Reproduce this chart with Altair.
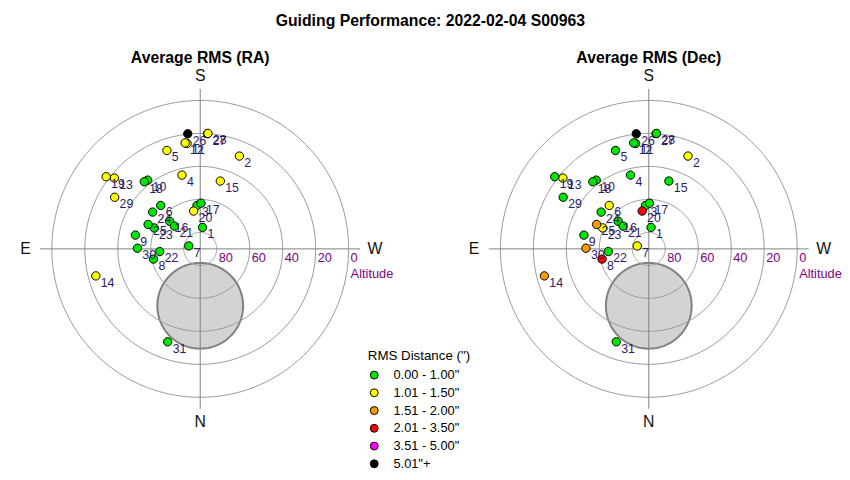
import math
import altair as alt
import numpy as np
import pandas as pd

FONT = "Arial, Liberation Sans, sans-serif"

# ---- data ----
point_ids = list(range(1, 32))
altitude = [76.9, 28.9, 63.6, 43.9, 27.0, 54.4, 82.8, 61.0, 49.8, 37.5, 25.6, 25.1, 22.5, 24.6, 47.1,
            65.0, 62.3, 37.0, 18.1, 66.7, 69.2, 65.4, 59.3, 53.5, 55.1, 19.8, 20.0, 19.8, 29.4, 51.9, 30.3]
azimuth = [186.1, 202.9, 175.7, 166.1, 161.3, 137.7, 104.4, 77.7, 102.0, 142.6, 172.9, 171.9, 129.5, 75.5, 196.5,
           132.1, 180.9, 140.2, 127.5, 170.1, 131.5, 86.2, 114.5, 127.7, 115.1, 173.8, 183.6, 183.8, 121.1, 90.6, 19.3]
# index into rms_bins
ra_class = [0, 1, 0, 1, 1, 0, 0, 0, 0, 0, 1, 1, 1, 1, 1, 0, 0, 0, 1, 1, 0, 0, 0, 0, 0, 5, 1, 1, 1, 0, 0]
dec_class = [0, 1, 0, 0, 0, 1, 1, 3, 0, 0, 0, 0, 1, 2, 0, 0, 0, 0, 0, 3, 0, 0, 1, 0, 2, 5, 0, 0, 0, 2, 0]

rms_bins = ['0.00 - 1.00"', '1.01 - 1.50"', '1.51 - 2.00"', '2.01 - 3.50"', '3.51 - 5.00"', '5.01"+']
rms_colors = ["#00e600", "#ffff00", "#f59b00", "#ff0000", "#ff00ff", "#000000"]

ring_altitudes = [80, 60, 40, 20, 0]
compass = ["S", "N", "E", "W"]
compass_az = [180, 0, 90, 270]
pole_altitude = 55.5
pole_radius = 26.0

main_title = "Guiding Performance: 2022-02-04 S00963"
panel_titles = ["Average RMS (RA)", "Average RMS (Dec)"]

# ---- derived tables ----
def to_xy(alt_deg, az_deg):
    r = 90.0 - alt_deg
    a = math.radians(az_deg)
    return -r * math.sin(a), -r * math.cos(a)

SIZE = 368
DOM = 110
xs = alt.Scale(domain=[-DOM, DOM], nice=False, zero=False)
ys = alt.Scale(domain=[-DOM, DOM], nice=False, zero=False)
X = lambda f="x": alt.X(f"{f}:Q", scale=xs, axis=None)
Y = lambda f="y": alt.Y(f"{f}:Q", scale=ys, axis=None)

ring_rows = []
for a in ring_altitudes:
    r = 90 - a
    for i, t in enumerate(np.linspace(0, 2 * np.pi, 181)):
        ring_rows.append({"ring": a, "o": i, "x": r * np.cos(t), "y": r * np.sin(t)})
rings_df = pd.DataFrame(ring_rows)

cross_df = pd.DataFrame({"x": [-97, 0], "x2": [97, 0], "y": [0, -97], "y2": [0, 97]})

pcx, pcy = to_xy(pole_altitude, 0)
ts = np.linspace(0, np.pi, 121)
pole_df = pd.DataFrame({"x": pcx + pole_radius * np.cos(ts),
                        "y": pcy + pole_radius * np.sin(ts),
                        "y2": pcy - pole_radius * np.sin(ts)})

comp_rows = []
for lab, az in zip(compass, compass_az):
    cx, cy = to_xy(90 - (105 if lab in "SN" else 106), az)
    comp_rows.append({"lab": lab, "x": cx, "y": cy})
comp_df = pd.DataFrame(comp_rows)

ringlab_df = pd.DataFrame({"lab": [str(a) for a in ring_altitudes],
                           "x": [90 - a for a in ring_altitudes], "y": [0] * len(ring_altitudes)})
altlab_df = pd.DataFrame({"lab": ["Altitude"], "x": [90], "y": [0]})


def points_df(classes):
    rows = []
    for pid, a, z, c in zip(point_ids, altitude, azimuth, classes):
        x, y = to_xy(a, z)
        rows.append({"id": str(pid), "x": x, "y": y, "rms": rms_bins[c], "n": pid})
    return pd.DataFrame(rows)


def panel(title, classes, legend):
    pts = points_df(classes)
    pole = alt.Chart(pole_df).mark_area(orient="vertical", color="#d3d3d3", stroke="#808080",
                                        strokeWidth=2).encode(x=X(), y=Y(), y2="y2:Q")
    rings = alt.Chart(rings_df).mark_line(color="#999999", strokeWidth=1).encode(
        x=X(), y=Y(), detail="ring:N", order="o:Q")
    cross = alt.Chart(cross_df).mark_rule(color="#808080", strokeWidth=1).encode(
        x=X(), y=Y(), x2="x2:Q", y2="y2:Q")
    comp = alt.Chart(comp_df).mark_text(fontSize=16, font=FONT, color="#111111",
                                        baseline="middle", align="center").encode(x=X(), y=Y(), text="lab:N")
    ringlab = alt.Chart(ringlab_df).mark_text(fontSize=13, font=FONT, color="#800080", align="left",
                                              baseline="middle", dx=2, dy=9).encode(x=X(), y=Y(), text="lab:N")
    altlab = alt.Chart(altlab_df).mark_text(fontSize=13, font=FONT, color="#800080", align="left",
                                            baseline="middle", dx=2, dy=26).encode(x=X(), y=Y(), text="lab:N")
    color = alt.Color("rms:N", scale=alt.Scale(domain=rms_bins, range=rms_colors),
                      legend=legend)
    dots = alt.Chart(pts).mark_circle(size=72, stroke="black", strokeWidth=1, opacity=1).encode(
        x=X(), y=Y(), color=color, order="n:Q")
    labels = alt.Chart(pts).mark_text(fontSize=12.5, font=FONT, color="#2e1a66", align="left",
                                      baseline="middle", dx=5, dy=7).encode(x=X(), y=Y(), text="id:N")
    return alt.layer(pole, rings, cross, ringlab, altlab, comp, dots, labels).properties(
        width=SIZE, height=SIZE,
        title=alt.TitleParams(title, fontSize=16, fontWeight="bold", font=FONT, anchor="middle", offset=2))


leg = alt.Legend(title='RMS Distance (")', orient="none", legendX=354, legendY=286,
                 symbolType="circle", symbolSize=64, symbolStrokeColor="black", symbolStrokeWidth=1,
                 titleFontWeight="normal", titleFontSize=13.5, titleFont=FONT, labelFont=FONT,
                 labelFontSize=13, rowPadding=4, labelOffset=13, titlePadding=6, titleColor="black",
                 labelColor="black")

left = panel(panel_titles[0], ra_class, leg)
right = panel(panel_titles[1], dec_class, None)

chart = alt.hconcat(left, right, spacing=87, bounds="flush").resolve_scale(
    color="independent").resolve_legend(color="independent").properties(
    title=alt.TitleParams(main_title, fontSize=16, fontWeight="bold", font=FONT, anchor="middle", offset=21),
    padding={"left": 11, "top": 2, "right": 0, "bottom": 0}
).configure_view(stroke=None)

chart.save("out.html", embed_options={"renderer": "svg", "actions": False})
